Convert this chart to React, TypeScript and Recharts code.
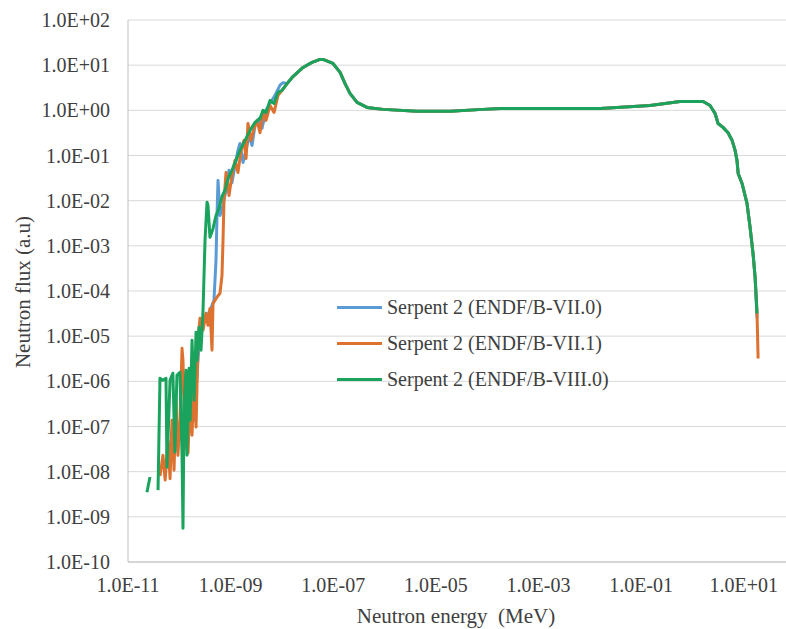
import React from 'react';
import { LineChart, Line, XAxis, YAxis, CartesianGrid, Legend } from 'recharts';

// axis ticks
const xTicks = [1e-11, 1e-9, 1e-7, 1e-5, 1e-3, 1e-1, 1e1];
const yTicks = [1e-10, 1e-9, 1e-8, 1e-7, 1e-6, 1e-5, 1e-4, 1e-3, 1e-2, 1e-1, 1, 1e1, 1e2];

// part of the spectrum where the three libraries agree (MeV, a.u)
const hiEnergy = [
  1.26e-8, 1.64e-8, 2.58e-8, 3.86e-8, 5.53e-8, 6.3e-8, 9.9e-8, 1.36e-7, 1.7e-7, 2.12e-7,
  2.91e-7, 4.56e-7, 9.35e-7, 4.3e-6, 1.9e-5, 8.3e-5, 1.79e-4, 1.6e-2, 0.15, 0.575,
  1.62, 2.21, 2.77, 3.17, 3.96, 4.96, 5.94, 6.8, 7.4, 7.8, 9.3, 11.6, 13.3, 15.2, 16.7,
];
const hiFlux = [
  3.9, 5.6, 8.9, 11.5, 13.4, 13.4, 10.9, 6.9, 3.9, 2.37,
  1.5, 1.16, 1.05, 0.95, 0.95, 1.05, 1.1, 1.1, 1.28, 1.56,
  1.57, 1.28, 0.85, 0.51, 0.42, 0.32, 0.216, 0.13, 0.078, 0.04, 0.024, 0.0087, 0.0026, 6.8e-4, 2.0e-4,
];

// ENDF/B-VII.0 (blue)
const b70LowE = [
  6.0e-11, 8.2e-11, 1.13e-10, 1.48e-10, 1.94e-10, 2.53e-10, 3.17e-10, 3.96e-10, 4.74e-10, 5.19e-10,
  5.43e-10, 5.68e-10, 6.21e-10, 7.11e-10, 8.13e-10, 9.31e-10, 1.06e-9, 1.22e-9, 1.39e-9, 1.52e-9,
  1.75e-9, 2.0e-9, 2.29e-9, 2.61e-9, 2.99e-9, 3.58e-9, 4.09e-9, 4.9e-9, 5.86e-9, 7.33e-9, 9.18e-9, 1.05e-8,
];
const b70LowF = [
  1.8e-8, 8.3e-8, 5.0e-8, 3.8e-7, 1.38e-7, 1.35e-5, 2.25e-5, 3.7e-5, 6.2e-5, 4.8e-4,
  4.7e-3, 0.028, 4.7e-3, 7.9e-3, 0.017, 0.047, 0.025, 0.06, 0.13, 0.185,
  0.07, 0.13, 0.28, 0.167, 0.46, 0.66, 0.4, 1.0, 1.42, 2.14, 3.6, 4.1,
];
const b70TailE = [18.2];
const b70TailF = [2.5e-5];

// ENDF/B-VII.1 (orange)
const o71LowE = [
  4.2e-11, 4.8e-11, 5.3e-11, 6.0e-11, 6.6e-11, 7.2e-11, 7.9e-11, 8.6e-11, 9.4e-11, 1.03e-10,
  1.13e-10, 1.18e-10, 1.29e-10, 1.48e-10, 1.62e-10, 1.77e-10, 1.94e-10, 2.12e-10, 2.32e-10, 2.53e-10,
  2.9e-10, 3.31e-10, 3.62e-10, 3.96e-10, 4.34e-10, 4.54e-10, 5.43e-10, 6.21e-10, 6.79e-10, 7.11e-10,
  7.43e-10, 8.13e-10, 9.31e-10, 1.06e-9, 1.22e-9, 1.39e-9, 1.6e-9, 1.82e-9, 2.0e-9, 2.18e-9,
  2.5e-9, 2.86e-9, 3.27e-9, 3.74e-9, 4.28e-9, 4.9e-9, 5.86e-9, 7.02e-9, 8.39e-9, 1.0e-8,
];
const o71LowF = [
  8.0e-9, 2.3e-8, 6.5e-9, 5.0e-8, 7.0e-9, 1.38e-7, 1.08e-8, 3.8e-7, 2.3e-8, 1.38e-7,
  5.4e-6, 2.9e-6, 5.0e-8, 2.6e-8, 3.8e-7, 6.4e-8, 1.06e-6, 9.7e-8, 8.1e-6, 2.5e-5,
  1.35e-5, 3.2e-5, 1.74e-5, 4.1e-5, 4.9e-6, 5.3e-5, 7.3e-5, 8.9e-5, 2.2e-4, 1.32e-3,
  0.0102, 0.042, 0.013, 0.036, 0.078, 0.042, 0.13, 0.216, 0.086, 0.51,
  0.216, 0.4, 0.6, 0.32, 0.9, 0.6, 1.28, 0.9, 2.14, 2.75,
];
const o71TailE = [18.2, 19.1];
const o71TailF = [3.2e-5, 3.2e-6];

// ENDF/B-VIII.0 (green), null = gap in the curve
const g80LowE = [
  2.34e-11, 2.68e-11, 3.2e-11, 3.85e-11, 4.2e-11, 4.8e-11, 5.5e-11, 5.75e-11, 6.6e-11, 7.5e-11,
  8.2e-11, 9.0e-11, 1.03e-10, 1.13e-10, 1.18e-10, 1.24e-10, 1.35e-10, 1.41e-10, 1.55e-10, 1.62e-10,
  1.77e-10, 1.94e-10, 2.12e-10, 2.21e-10, 2.42e-10, 2.65e-10, 2.9e-10, 3.17e-10, 3.47e-10, 3.62e-10,
  3.96e-10, 4.54e-10, 5.19e-10, 5.94e-10, 6.79e-10, 7.78e-10, 8.89e-10, 1.06e-9, 1.27e-9, 1.52e-9,
  1.91e-9, 2.39e-9, 2.99e-9, 3.74e-9, 4.28e-9, 4.9e-9, 5.86e-9, 7.02e-9, 8.39e-9, 1.0e-8,
];
const g80LowF = [
  3.5e-9, 7.6e-9, null, 3.9e-9, 1.17e-6, 1.06e-6, 1.17e-6, 1.26e-8, 1.06e-6, 1.51e-6,
  2.7e-8, 1.36e-6, 1.59e-6, 2.3e-8, 5.6e-10, 3.8e-7, 1.76e-6, 2.3e-8, 1.95e-6, 1.38e-7,
  8.1e-6, 3.8e-7, 1.22e-5, 2.9e-6, 1.57e-5, 4.9e-6, 3.7e-5, 1.32e-3, 9.2e-3, 7.9e-3,
  1.54e-3, 2.4e-3, 4.7e-3, 6.8e-3, 0.0124, 0.017, 0.031, 0.047, 0.078, 0.13,
  0.216, 0.36, 0.54, 0.66, 1.0, 0.9, 1.66, 1.42, 2.5, 2.75,
];
const g80TailE = [18.2];
const g80TailF = [3.2e-5];

const FONT = "Liberation Serif, Tinos, 'Times New Roman', 'DejaVu Serif', serif";
const TEXT = '#404040';

const toPoints = (e: number[], f: (number | null)[]) => e.map((x, i) => ({ e: x, f: f[i] }));

const series = [
  {
    name: 'Serpent 2 (ENDF/B-VII.0)',
    color: '#5b9bd5',
    data: toPoints([...b70LowE, ...hiEnergy, ...b70TailE], [...b70LowF, ...hiFlux, ...b70TailF]),
  },
  {
    name: 'Serpent 2 (ENDF/B-VII.1)',
    color: '#dd7230',
    data: toPoints([...o71LowE, ...hiEnergy, ...o71TailE], [...o71LowF, ...hiFlux, ...o71TailF]),
  },
  {
    name: 'Serpent 2 (ENDF/B-VIII.0)',
    color: '#19a35c',
    data: toPoints([...g80LowE, ...hiEnergy, ...g80TailE], [...g80LowF, ...hiFlux, ...g80TailF]),
  },
];

const sci = (v: number) => {
  const p = Math.round(Math.log10(v));
  return `1.0E${p < 0 ? '-' : '+'}${String(Math.abs(p)).padStart(2, '0')}`;
};

const renderLegend = () => (
  <div style={{ fontFamily: FONT, fontSize: 20, color: TEXT }}>
    {series.map((s) => (
      <div key={s.name} style={{ display: 'flex', alignItems: 'center', height: 36 }}>
        <span style={{ display: 'inline-block', width: 45, borderTop: `3px solid ${s.color}`, marginRight: 5 }} />
        <span>{s.name}</span>
      </div>
    ))}
  </div>
);

export default function App() {
  return (
    <div
      style={{
        position: 'absolute',
        left: 0,
        top: 0,
        width: 786,
        height: 629,
        overflow: 'hidden',
        background: '#fff',
        fontFamily: FONT,
      }}
    >
      <LineChart
        width={795}
        height={629}
        margin={{ top: 20, right: 0, bottom: 22, left: 0 }}
        style={{ fontFamily: FONT }}
      >
        <CartesianGrid vertical={false} stroke="#d9d9d9" />
        <XAxis
          type="number"
          dataKey="e"
          scale="log"
          domain={[1e-11, 1e2]}
          allowDataOverflow
          ticks={xTicks}
          interval={0}
          tickFormatter={sci}
          height={45}
          tickLine={false}
          tickSize={0}
          tickMargin={16}
          axisLine={{ stroke: '#bfbfbf' }}
          tick={{ fill: TEXT, fontSize: 20, style: { fontFamily: FONT } }}
          label={() => (
            <text
              x={456}
              y={623}
              textAnchor="middle"
              fill={TEXT}
              fontSize={21}
              style={{ fontFamily: FONT, whiteSpace: 'pre' }}
            >
              Neutron energy  (MeV)
            </text>
          )}
        />
        <YAxis
          type="number"
          scale="log"
          domain={[1e-10, 1e2]}
          allowDataOverflow
          ticks={yTicks}
          interval={0}
          tickFormatter={sci}
          width={128}
          tickLine={false}
          tickSize={0}
          tickMargin={18}
          axisLine={{ stroke: '#bfbfbf' }}
          tick={{ fill: TEXT, fontSize: 20, style: { fontFamily: FONT } }}
          label={() => (
            <text
              x={23}
              y={292}
              transform="rotate(-90 23 292)"
              textAnchor="middle"
              dominantBaseline="central"
              fill={TEXT}
              fontSize={21}
              style={{ fontFamily: FONT }}
            >
              Neutron flux (a.u)
            </text>
          )}
        />
        <Legend
          layout="vertical"
          align="center"
          verticalAlign="middle"
          content={renderLegend}
          wrapperStyle={{ left: 337, top: 289, width: 320 }}
        />
        {series.map((s) => (
          <Line
            key={s.name}
            data={s.data}
            dataKey="f"
            name={s.name}
            type="linear"
            stroke={s.color}
            strokeWidth={3}
            strokeLinejoin="round"
            dot={false}
            activeDot={false}
            connectNulls={false}
            isAnimationActive={false}
          />
        ))}
      </LineChart>
    </div>
  );
}
